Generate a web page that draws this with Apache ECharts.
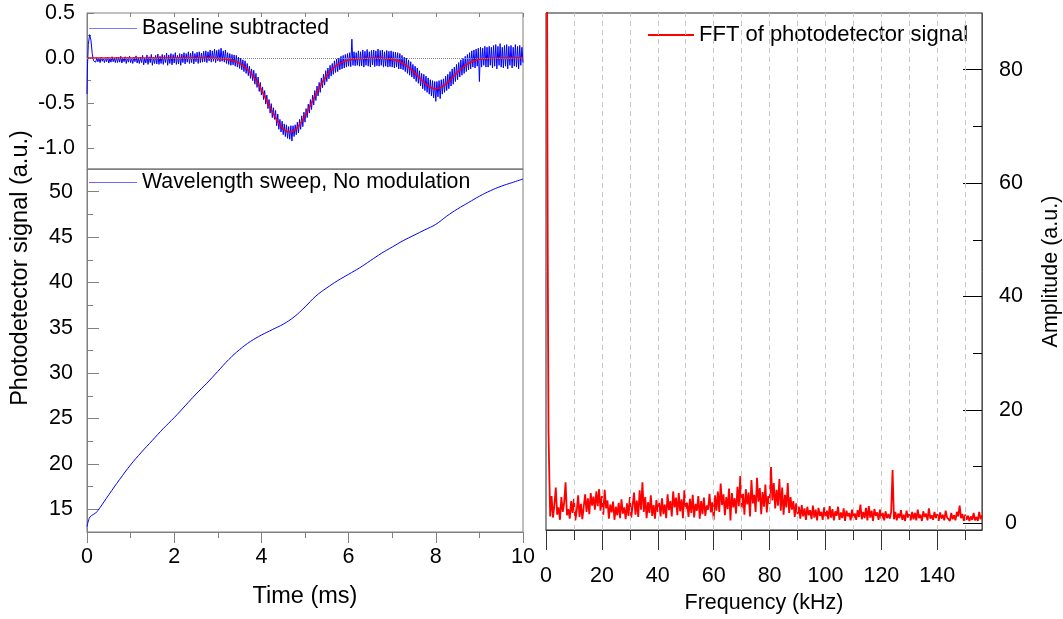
<!DOCTYPE html>
<html><head><meta charset="utf-8">
<script src="https://cdn.jsdelivr.net/npm/echarts@6/dist/echarts.min.js"></script>
<style>html,body{margin:0;padding:0;background:#fff}#c{width:1063px;height:619px}</style>
</head><body><div id="c"></div>
<script>
// ---------- data ----------
// Top-left panel: baseline-subtracted signal (noisy trace), time in ms
const baselineStartT = [0, 0.01, 0.03, 0.06, 0.09, 0.12, 0.15];
const baselineStartV = [-0.40, -0.10, 0.15, 0.26, 0.20, 0.05, -0.03];
const baselineT0 = 0.20, baselineStep = 0.025;
const baselineV = [
 -0.045,0.005,-0.04,-0.005,-0.05,0.01,-0.035,0.0,-0.05,0.005,-0.04,0.01,-0.055,-0.005,-0.045,0.015,-0.04,0.0,-0.05,0.01,
 -0.05,0.01,-0.045,0.02,-0.055,0.0,-0.04,0.015,-0.06,0.005,-0.045,0.02,-0.05,0.0,-0.06,0.01,-0.04,0.025,-0.055,0.005,
 -0.06,0.01,-0.05,0.03,-0.075,0.0,-0.055,0.035,-0.07,0.015,-0.05,0.04,-0.08,0.01,-0.06,0.03,-0.065,0.045,-0.07,0.02,
 -0.06,0.04,-0.07,0.03,-0.05,0.055,-0.08,0.035,-0.06,0.05,-0.075,0.04,-0.055,0.06,-0.07,0.03,-0.065,0.05,-0.08,0.045,
 -0.05,0.06,-0.065,0.05,-0.045,0.07,-0.06,0.055,-0.05,0.075,-0.065,0.05,-0.04,0.065,-0.06,0.07,-0.05,0.055,-0.045,0.075,
 -0.04,0.08,-0.05,0.07,-0.03,0.09,-0.045,0.08,-0.035,0.1,-0.05,0.085,-0.03,0.095,-0.04,0.11,-0.035,0.08,-0.045,0.09,
 -0.06,0.06,-0.07,0.05,-0.08,0.04,-0.075,0.035,-0.09,0.03,-0.1,0.01,-0.115,0.0,-0.13,-0.02,-0.15,-0.03,-0.17,-0.06,
 -0.195,-0.09,-0.225,-0.12,-0.25,-0.135,-0.29,-0.17,-0.325,-0.21,-0.37,-0.27,-0.41,-0.32,-0.46,-0.36,-0.51,-0.41,-0.56,-0.46,
 -0.61,-0.505,-0.66,-0.55,-0.68,-0.58,-0.75,-0.62,-0.79,-0.68,-0.82,-0.70,-0.85,-0.73,-0.87,-0.74,-0.89,-0.76,-0.9,-0.75,
 -0.92,-0.75,-0.87,-0.74,-0.85,-0.71,-0.83,-0.68,-0.79,-0.64,-0.76,-0.6,-0.71,-0.56,-0.66,-0.51,-0.61,-0.46,-0.57,-0.41,
 -0.52,-0.36,-0.47,-0.31,-0.42,-0.27,-0.38,-0.22,-0.33,-0.18,-0.30,-0.14,-0.26,-0.11,-0.23,-0.08,-0.2,-0.06,-0.18,-0.03,
 -0.16,-0.01,-0.15,0.0,-0.13,0.02,-0.12,0.03,-0.11,0.04,-0.1,0.05,-0.09,0.06,-0.095,0.21,-0.08,0.07,-0.085,0.06,
 -0.08,0.08,-0.09,0.07,-0.085,0.09,-0.1,0.075,-0.08,0.095,-0.09,0.07,-0.1,0.085,-0.075,0.09,-0.095,0.08,-0.085,0.1,
 -0.09,0.085,-0.08,0.09,-0.1,0.07,-0.09,0.085,-0.1,0.075,-0.095,0.08,-0.1,0.07,-0.11,0.065,-0.1,0.06,-0.12,0.05,
 -0.12,0.03,-0.13,0.01,-0.15,0.0,-0.17,-0.02,-0.19,-0.04,-0.21,-0.07,-0.23,-0.09,-0.26,-0.11,-0.28,-0.14,-0.31,-0.17,
 -0.34,-0.18,-0.36,-0.2,-0.38,-0.22,-0.4,-0.24,-0.42,-0.25,-0.44,-0.26,-0.48,-0.26,-0.43,-0.25,-0.45,-0.24,-0.4,-0.23,
 -0.38,-0.2,-0.36,-0.18,-0.34,-0.15,-0.31,-0.12,-0.29,-0.1,-0.26,-0.07,-0.24,-0.05,-0.21,-0.02,-0.19,0.0,-0.17,0.02,
 -0.15,0.04,-0.13,0.06,-0.12,0.08,-0.1,0.09,-0.11,0.1,-0.09,0.11,-0.26,0.12,-0.1,0.11,-0.08,0.13,-0.1,0.12,
 -0.1,0.13,-0.08,0.12,-0.11,0.14,-0.09,0.15,-0.12,0.13,-0.08,0.16,-0.1,0.12,-0.11,0.14,-0.09,0.15,-0.12,0.13,
 -0.08,0.14,-0.11,0.12,-0.09,0.15,-0.1,0.13,-0.12,0.14,-0.08,0.12,-0.05
];
// Top-left panel: red fitted curve, every 0.1 ms from 0 to 10
const fitT0 = 0, fitStep = 0.1;
const fitV = [
 0,0,0,0,0,0,0,0,0,0,
 0,0,0,0,0,0,0,0,0,0,
 0,0,0,0,0,0,0,0,0,0,
 -0.004,-0.007,-0.012,-0.021,-0.036,-0.058,-0.090,-0.135,-0.193,-0.266,
 -0.352,-0.448,-0.547,-0.642,-0.724,-0.784,-0.816,-0.816,-0.784,-0.724,
 -0.642,-0.547,-0.448,-0.352,-0.266,-0.193,-0.135,-0.090,-0.058,-0.036,
 -0.021,-0.012,-0.007,-0.004,-0.002,-0.001,0,0,-0.002,-0.007,
 -0.015,-0.027,-0.046,-0.074,-0.110,-0.156,-0.206,-0.257,-0.300,-0.329,
 -0.340,-0.329,-0.300,-0.257,-0.206,-0.156,-0.110,-0.074,-0.046,-0.027,
 -0.015,-0.008,-0.004,-0.002,-0.001,0,0,0,0,0,0
];
const zeroLine = [0];
// Bottom-left panel: wavelength sweep
const sweepT = [0,0.05,0.1,0.2,0.3,0.5,0.75,1,1.25,1.5,1.75,2,2.25,2.5,2.75,3,3.25,3.5,3.75,4,4.25,4.5,4.75,5,5.25,5.5,5.75,6,6.25,6.5,6.75,7,7.25,7.5,7.75,8,8.25,8.5,8.75,9,9.25,9.5,9.75,10];
const sweepV = [13.1,14.0,14.3,14.6,15.2,16.6,18.3,19.9,21.3,22.6,23.9,25.1,26.4,27.7,28.9,30.2,31.5,32.6,33.5,34.2,34.8,35.4,36.2,37.3,38.5,39.4,40.2,40.9,41.6,42.4,43.2,43.9,44.6,45.2,45.8,46.4,47.3,48.1,48.8,49.5,50.1,50.6,51.0,51.4];
// Right panel: FFT amplitude (kHz)
const fftStartF = [0, 0.3, 0.6, 0.9, 1.2];
const fftStartV = [160, 110, 50, 16, 8];
const fftF0 = 1.5, fftStep = 0.5;
const fftV = [
 1.2,4.8,1.0,3.2,6.3,1.5,2.8,0.6,4.6,2.0,3.6,7.2,1.4,2.5,0.8,3.9,1.8,4.3,0.5,2.2,
 4.9,1.1,3.4,0.7,2.9,5.1,2.0,4.4,1.6,5.3,3.1,4.7,2.4,5.6,3.0,6.0,2.2,4.8,1.5,5.9,
 2.6,4.0,0.8,3.3,1.9,3.8,0.6,2.9,1.4,3.6,0.9,4.2,1.7,2.8,0.7,3.5,1.3,4.6,1.0,3.1,
 5.4,1.5,4.0,1.1,5.8,2.4,7.2,2.0,4.6,0.9,3.7,1.8,4.9,1.3,3.2,0.8,4.1,2.0,3.6,1.2,
 4.4,1.6,3.3,0.9,5.1,2.3,3.9,1.2,5.6,2.8,4.5,1.4,5.3,2.1,4.2,0.9,5.8,2.5,3.6,1.1,
 4.3,1.8,5.0,1.0,3.4,2.2,4.8,0.8,3.9,1.6,4.5,1.3,3.1,2.4,5.2,1.9,3.7,0.6,4.9,2.2,
 5.6,2.0,7.0,3.2,5.1,1.4,4.6,2.5,6.1,0.5,5.3,2.8,4.4,1.7,6.4,3.0,8.3,2.6,5.2,1.5,
 6.0,3.3,5.4,1.2,7.6,3.5,5.0,2.0,8.0,3.8,6.2,1.6,5.5,2.9,6.8,1.9,4.8,3.4,9.9,4.0,
 7.1,2.6,5.9,3.1,7.8,2.2,6.3,1.5,5.0,2.8,7.1,1.8,4.6,2.4,3.9,1.1,3.5,1.6,2.9,0.8,
 3.2,1.2,2.6,0.6,2.9,1.4,2.3,0.7,3.1,1.0,2.4,0.5,2.7,1.3,2.0,0.6,2.8,1.1,2.2,0.7,
 3.0,1.0,2.5,0.5,2.1,1.3,2.9,0.6,1.9,0.9,2.6,0.4,2.2,1.2,1.8,0.5,2.4,0.9,1.7,0.6,
 2.3,1.1,3.3,0.7,2.0,0.9,2.7,0.5,3.0,1.0,2.2,0.4,2.5,1.3,1.9,0.6,2.4,0.8,1.8,0.5,
 2.1,0.9,1.6,0.8,2.0,9.4,0.7,2.0,0.5,1.7,0.9,2.3,0.6,1.5,0.4,2.2,1.0,1.6,0.5,2.0,
 0.7,1.8,0.5,2.4,0.9,1.5,0.4,2.1,1.1,1.7,0.5,2.6,0.8,1.4,0.6,2.0,0.9,1.6,0.4,1.9,
 0.8,1.5,0.5,2.2,1.0,1.3,0.4,1.8,0.7,1.4,0.5,2.0,1.2,3.1,0.9,1.6,0.4,1.5,0.6,1.3,
 0.4,1.2,0.6,1.8,0.5,1.1,0.4,2.0,0.7,1.4
];
// Tick values / labels
const timeTicks = [0, 2, 4, 6, 8, 10];
const topYTicks = [-1.0, -0.5, 0.0, 0.5];
const topYMinor = [-0.75, -0.25, 0.25];
const sweepYTicks = [15, 20, 25, 30, 35, 40, 45, 50];
const sweepYMinor = [17.5, 22.5, 27.5, 32.5, 37.5, 42.5, 47.5];
const fftXTicks = [0, 20, 40, 60, 80, 100, 120, 140];
const fftXMinor = [10, 30, 50, 70, 90, 110, 130, 150];
const fftGridLines = [10,20,30,40,50,60,70,80,90,100,110,120,130,140,150];
const fftYTicks = [0, 20, 40, 60, 80];
const fftYMinor = [10, 30, 50, 70];

// ---------- build series data ----------
const baselineData = baselineStartT.map((t, i) => [t, baselineStartV[i]])
  .concat(baselineV.map((v, i) => [+(baselineT0 + i * baselineStep).toFixed(4), v]));
const fitData = fitV.map((v, i) => [+(fitT0 + i * fitStep).toFixed(3), v]);
const sweepData = sweepT.map((t, i) => [t, sweepV[i]]);
const fftData = fftStartF.map((f, i) => [f, fftStartV[i]])
  .concat(fftV.map((v, i) => [+(fftF0 + i * fftStep).toFixed(3), v]));

const FONT = '"Liberation Sans", Arial, Helvetica, sans-serif';
const GREY = '#808080';
const DARK = '#222';
const lbl = (size) => ({ fontFamily: FONT, fontSize: size, color: '#000' });
const noSplit = { show: false };
const line = (color, show) => ({ show: show !== false, onZero: false, lineStyle: { color: color } });
const LTICK = 21.5, RTICK = 21.5;

const chart = echarts.init(document.getElementById('c'));
chart.setOption({
  animation: false,
  backgroundColor: '#fff',
  grid: [
    { left: 87, top: 13, width: 436, height: 156, show: true, borderColor: GREY, borderWidth: 1, backgroundColor: 'transparent' },
    { left: 87, top: 169, width: 436, height: 363, show: true, borderColor: GREY, borderWidth: 1, backgroundColor: 'transparent' },
    { left: 546, top: 13, width: 436, height: 518, show: true, borderColor: DARK, borderWidth: 1, backgroundColor: 'transparent' }
  ],
  legend: [
    { data: ['Baseline subtracted'], left: 89, top: 18, padding: 0, icon: 'rect', itemWidth: 48, itemHeight: 1.2, selectedMode: false,
      itemStyle: { color: '#7a7aff', borderWidth: 0 }, textStyle: lbl(21.3) },
    { data: ['Wavelength sweep, No modulation'], left: 89, top: 172, padding: 0, icon: 'rect', itemWidth: 48, itemHeight: 1.2, selectedMode: false,
      itemStyle: { color: '#6a6aff', borderWidth: 0 }, textStyle: lbl(21.3) },
    { data: ['FFT of photodetector signal'], left: 648, top: 24, padding: 0, icon: 'rect', itemWidth: 46, itemHeight: 2, selectedMode: false,
      itemStyle: { color: '#ff0000', borderWidth: 0 }, textStyle: lbl(22) }
  ],
  graphic: [
    { type: 'text', x: 21, y: 268, rotation: Math.PI / 2,
      style: { text: 'Photodetector signal (a.u.)', font: '23.5px ' + FONT, fill: '#000', align: 'center', verticalAlign: 'middle' } }
  ],
  xAxis: [
    { gridIndex: 0, type: 'value', min: 0, max: 10, position: 'bottom',
      axisLine: line(GREY), axisTick: { show: false }, axisLabel: { show: false }, splitLine: noSplit },
    { gridIndex: 0, type: 'value', min: 0, max: 10, interval: 1, position: 'top',
      axisLine: line(GREY, false), axisTick: { inside: true, length: 4, lineStyle: { color: GREY } }, axisLabel: { show: false }, splitLine: noSplit },
    { gridIndex: 1, type: 'value', min: 0, max: 10, position: 'bottom',
      axisLine: line(GREY),
      axisTick: { length: 11, customValues: timeTicks, lineStyle: { color: GREY } },
      axisLabel: Object.assign({ margin: 14, customValues: timeTicks }, lbl(LTICK)),
      name: 'Time (ms)', nameLocation: 'middle', nameGap: 53, nameTextStyle: lbl(23.5),
      splitLine: noSplit },
    { gridIndex: 1, type: 'value', min: 0, max: 10, interval: 1, position: 'bottom',
      axisLine: line(GREY, false),
      axisTick: { length: 6, lineStyle: { color: GREY } },
      axisLabel: { show: false }, splitLine: noSplit },
    { gridIndex: 2, type: 'value', min: 0, max: 156, position: 'bottom',
      axisLine: line('#333'),
      axisTick: { length: 10, customValues: fftXMinor, lineStyle: { color: '#333' } },
      axisLabel: { show: false }, splitLine: noSplit },
    { gridIndex: 2, type: 'value', min: 0, max: 156, position: 'bottom',
      axisLine: line('#333', false),
      axisTick: { length: 20, customValues: fftXTicks, lineStyle: { color: '#333' } },
      axisLabel: Object.assign({ margin: 35, customValues: fftXTicks }, lbl(RTICK)),
      name: 'Frequency (kHz)', nameLocation: 'middle', nameGap: 62, nameTextStyle: lbl(21.5),
      splitLine: noSplit }
  ],
  yAxis: [
    { gridIndex: 0, type: 'value', min: -1.23, max: 0.5, position: 'left',
      axisLine: line(GREY),
      axisTick: { show: true, inside: true, length: 7, customValues: topYTicks, lineStyle: { color: GREY } },
      axisLabel: Object.assign({ margin: 12, customValues: topYTicks, formatter: (v) => Number(v).toFixed(1) }, lbl(LTICK)),
      splitLine: noSplit },
    { gridIndex: 0, type: 'value', min: -1.23, max: 0.5, position: 'left',
      axisLine: line(GREY, false),
      axisTick: { show: true, inside: true, length: 4, customValues: topYMinor, lineStyle: { color: GREY } },
      axisLabel: { show: false }, splitLine: noSplit },
    { gridIndex: 1, type: 'value', min: 12.5, max: 52.5, position: 'left',
      axisLine: line(GREY),
      axisTick: { show: true, inside: true, length: 12, customValues: sweepYTicks, lineStyle: { color: GREY } },
      axisLabel: Object.assign({ margin: 14, customValues: sweepYTicks }, lbl(LTICK)),
      splitLine: noSplit },
    { gridIndex: 1, type: 'value', min: 12.5, max: 52.5, position: 'left',
      axisLine: line(GREY, false),
      axisTick: { show: true, inside: true, length: 6, customValues: sweepYMinor, lineStyle: { color: GREY } },
      axisLabel: { show: false }, splitLine: noSplit },
    { gridIndex: 2, type: 'value', min: -1.2, max: 90, position: 'right',
      axisLine: line('#555'),
      axisTick: { show: true, inside: true, length: 19, customValues: fftYTicks, lineStyle: { color: '#000' } },
      axisLabel: Object.assign({ margin: 29, align: 'center', customValues: fftYTicks }, lbl(RTICK)),
      name: 'Amplitude (a.u.)', nameLocation: 'middle', nameRotate: 90, nameGap: 58, nameTextStyle: lbl(21.5),
      splitLine: noSplit },
    { gridIndex: 2, type: 'value', min: -1.2, max: 90, position: 'right',
      axisLine: line('#555', false),
      axisTick: { show: true, inside: true, length: 9, customValues: fftYMinor, lineStyle: { color: '#000' } },
      axisLabel: { show: false }, splitLine: noSplit }
  ],
  series: [
    { name: 'zero', type: 'line', xAxisIndex: 0, yAxisIndex: 0, data: [], z: 1, silent: true,
      markLine: { silent: true, symbol: 'none', label: { show: false },
        lineStyle: { color: '#888', type: 'dotted', width: 1 },
        data: zeroLine.map(v => ({ yAxis: v })) } },
    { name: 'Baseline subtracted', type: 'line', xAxisIndex: 0, yAxisIndex: 0, data: baselineData, z: 2,
      symbol: 'none', showSymbol: false, lineStyle: { color: '#0000ff', width: 1 }, itemStyle: { color: '#0000ff' } },
    { name: 'fit', type: 'line', xAxisIndex: 0, yAxisIndex: 0, data: fitData, z: 3, smooth: 0.3,
      symbol: 'none', showSymbol: false, lineStyle: { color: '#ff0000', width: 1.5 } },
    { name: 'Wavelength sweep, No modulation', type: 'line', xAxisIndex: 2, yAxisIndex: 2, data: sweepData, smooth: 0.4,
      symbol: 'none', showSymbol: false, lineStyle: { color: '#0000ff', width: 1 }, itemStyle: { color: '#0000ff' } },
    { name: 'fftgrid', type: 'line', xAxisIndex: 4, yAxisIndex: 4, data: [], z: 1, silent: true,
      markLine: { silent: true, symbol: 'none', label: { show: false },
        lineStyle: { color: '#c8c8c8', type: [5, 4], width: 1 },
        data: fftGridLines.map(v => ({ xAxis: v })) } },
    { name: 'FFT of photodetector signal', type: 'line', xAxisIndex: 4, yAxisIndex: 4, data: fftData, z: 3,
      symbol: 'none', showSymbol: false, lineStyle: { color: '#ff0000', width: 1.8 }, itemStyle: { color: '#ff0000' } }
  ]
});
</script>
</body></html>
